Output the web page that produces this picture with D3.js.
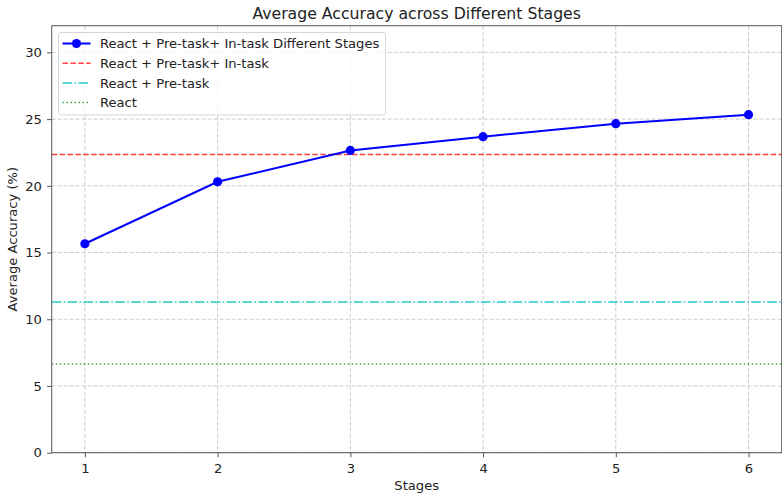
<!DOCTYPE html>
<html>
<head>
<meta charset="utf-8">
<script src="https://cdn.jsdelivr.net/npm/d3@7"></script>
<style>
  body { margin: 0; background: #fff; }
  svg text { font-family: "DejaVu Sans", sans-serif; fill: #222; }
</style>
</head>
<body>
<div id="chart"></div>
<script>
// Data
var stages = [1, 2, 3, 4, 5, 6];
var stageAccuracy = [15.66, 20.3, 22.65, 23.68, 24.66, 25.33];
var baselineNames = ["React + Pre-task+ In-task", "React + Pre-task", "React"];
var baselineValues = [22.35, 11.3, 6.65];
var yTicks = [0, 5, 10, 15, 20, 25, 30];
var seriesName = "React + Pre-task+ In-task Different Stages";

var svgWidth = 782;
var svgHeight = 493;
var margin = { top: 25.7, bottom: 40.3, left: 51.7, right: 0.3 };
var width = svgWidth - margin.left - margin.right;
var height = svgHeight - margin.top - margin.bottom;

var svg = d3.select("#chart").append("svg")
  .attr("width", svgWidth)
  .attr("height", svgHeight);

var chartGroup = svg.append("g")
  .attr("transform", `translate(${margin.left}, ${margin.top})`);

var x = d3.scaleLinear().domain([0.75, 6.25]).range([0, width]);
var y = d3.scaleLinear().domain([0, 32]).range([height, 0]);

// grid
chartGroup.append("g").selectAll("line")
  .data(stages).enter().append("line")
  .attr("x1", d => x(d)).attr("x2", d => x(d))
  .attr("y1", 0).attr("y2", height)
  .attr("stroke", "#cccccc").attr("stroke-width", 1)
  .attr("stroke-dasharray", "4,2");

chartGroup.append("g").selectAll("line")
  .data(yTicks).enter().append("line")
  .attr("x1", 0).attr("x2", width)
  .attr("y1", d => y(d)).attr("y2", d => y(d))
  .attr("stroke", "#cccccc").attr("stroke-width", 1)
  .attr("stroke-dasharray", "4,2");

// baselines
var baseStyles = [
  { color: "rgba(255,0,0,0.75)", dash: "5.5,2.4" },
  { color: "rgba(0,191,191,0.85)", dash: "9.6,2.4,1.5,2.4" },
  { color: "rgba(0,128,0,0.7)", dash: "1.5,2.5" }
];

chartGroup.selectAll(".baseline")
  .data(baselineValues).enter().append("line")
  .attr("class", "baseline")
  .attr("x1", 0).attr("x2", width)
  .attr("y1", d => y(d)).attr("y2", d => y(d))
  .attr("stroke", (d, i) => baseStyles[i].color)
  .attr("stroke-width", 1.5)
  .attr("stroke-dasharray", (d, i) => baseStyles[i].dash);

// main series
var line = d3.line()
  .x((d, i) => x(stages[i]))
  .y(d => y(d));

chartGroup.append("path")
  .datum(stageAccuracy)
  .attr("d", line)
  .attr("fill", "none")
  .attr("stroke", "blue")
  .attr("stroke-width", 2);

chartGroup.selectAll(".dot")
  .data(stageAccuracy).enter().append("circle")
  .attr("class", "dot")
  .attr("cx", (d, i) => x(stages[i]))
  .attr("cy", d => y(d))
  .attr("r", 4.6)
  .attr("fill", "blue");

// axes
var bottomAxis = d3.axisBottom(x).tickValues(stages).tickFormat(d3.format("d"))
  .tickSizeOuter(0).tickSize(4.6).tickPadding(6.4);
var leftAxis = d3.axisLeft(y).tickValues(yTicks).tickFormat(d3.format("d"))
  .tickSizeOuter(0).tickSize(4.6).tickPadding(5.2);

var gx = chartGroup.append("g")
  .attr("transform", `translate(0, ${height})`)
  .call(bottomAxis);
var gy = chartGroup.append("g").call(leftAxis);

[gx, gy].forEach(function (g) {
  g.select(".domain").remove();
  g.selectAll("line").attr("stroke", "#555");
  g.selectAll("text").attr("font-size", "13.1px").attr("fill", "#222");
});

// frame
chartGroup.append("rect")
  .attr("width", width).attr("height", height)
  .attr("fill", "none").attr("stroke", "#555").attr("stroke-width", 1);

// labels
svg.append("text")
  .attr("x", margin.left + width / 2).attr("y", 19)
  .attr("text-anchor", "middle")
  .attr("font-size", "15.7px")
  .text("Average Accuracy across Different Stages");

svg.append("text")
  .attr("x", margin.left + width / 2).attr("y", 490)
  .attr("text-anchor", "middle")
  .attr("font-size", "13.1px")
  .text("Stages");

svg.append("text")
  .attr("transform", `translate(17, ${margin.top + height / 2}) rotate(-90)`)
  .attr("text-anchor", "middle")
  .attr("font-size", "13.1px")
  .text("Average Accuracy (%)");

// legend
var legend = svg.append("g").attr("transform", "translate(58.5, 32.5)");
legend.append("rect")
  .attr("width", 327).attr("height", 82.5)
  .attr("rx", 2.5)
  .attr("fill", "rgba(255,255,255,0.8)")
  .attr("stroke", "#d6d6d6");

var legendItems = [seriesName].concat(baselineNames);
var rowY = d => 11 + d * 19.7;

legendItems.forEach(function (name, i) {
  var row = legend.append("g").attr("transform", `translate(0, ${rowY(i)})`);
  if (i === 0) {
    row.append("line").attr("x1", 4).attr("x2", 32)
      .attr("stroke", "blue").attr("stroke-width", 2);
    row.append("circle").attr("cx", 18).attr("r", 4.6).attr("fill", "blue");
  } else {
    row.append("line").attr("x1", 4).attr("x2", 32)
      .attr("stroke", baseStyles[i - 1].color)
      .attr("stroke-width", 1.5)
      .attr("stroke-dasharray", baseStyles[i - 1].dash);
  }
  row.append("text").attr("x", 41.5).attr("y", 4.7)
    .attr("font-size", "13.1px")
    .text(name);
});
</script>
</body>
</html>
